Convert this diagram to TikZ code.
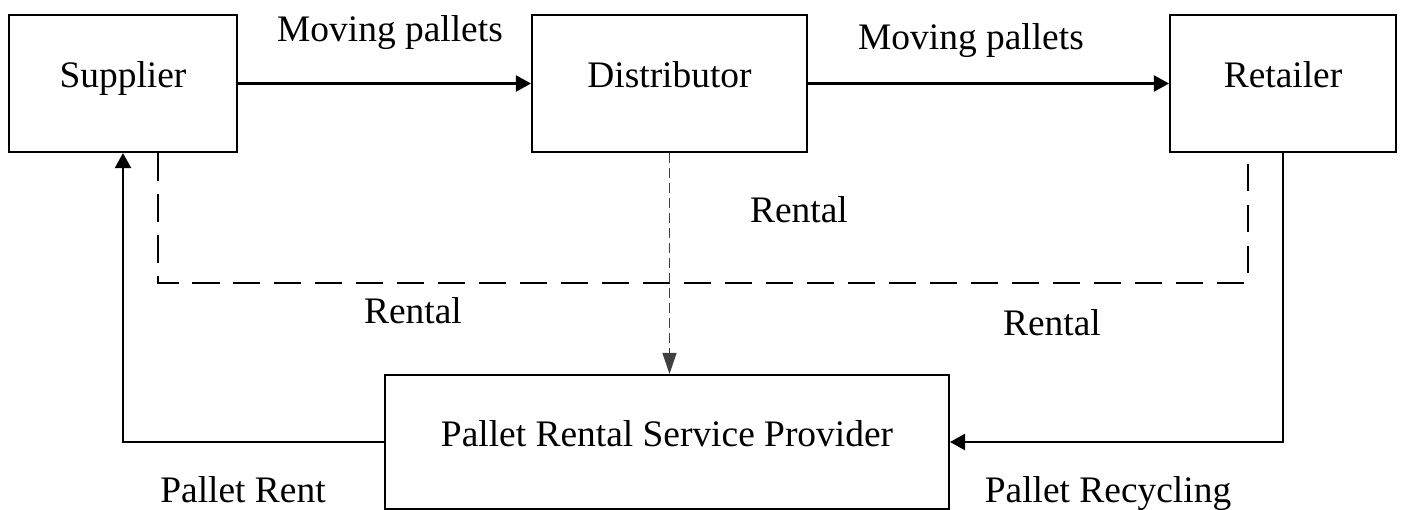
\documentclass[tikz,border=0pt]{standalone}
\usepackage{fontspec}
\setmainfont{Liberation Serif}
\usetikzlibrary{arrows.meta}
\tikzset{%
  myedge/.style={-{Triangle[length=0.3cm,width=0.32cm]}, line width=1.2pt},
  mydash/.style={dash pattern=on 0.55cm off 0.27cm, line width=1.4pt},
  mythin/.style={-{Triangle[length=0.42cm,width=0.28cm]}, dash pattern=on 0.2cm off 0.1cm, line width=0.6pt, black!75},
  mybox/.style={rectangle, draw=black, line width=1.2pt, inner sep=0pt, minimum height=2.74cm, text height=0.7em, text depth=0.22em},
  mylabel/.style={anchor=base, inner sep=0pt}
}

\begin{document}
\begin{tikzpicture}[x=0.02cm, y=-0.02cm, font=\fontsize{21.3}{25}\selectfont]
\useasboundingbox (0,0) rectangle (1403,510);

\node [mybox, minimum width=4.56cm] (S) at (123,83.5) {Supplier};
\node [mybox, minimum width=5.5cm] (D) at (669.5,83.5) {Distributor};
\node [mybox, minimum width=4.52cm] (R) at (1283,83.5) {Retailer};
\node [mybox, minimum width=11.28cm, minimum height=2.68cm] (P) at (667,442) {Pallet Rental Service Provider};

\draw [myedge] (S.east) -- (D.west);
\draw [myedge] (D.east) -- (R.west);

% rental loop
\coordinate (rentL) at (158,283);
\coordinate (rentR) at (1248,283);
\draw [mydash] (S.south -| rentL) -- (rentL) -- (rentR) -- (R.south -| rentR);
\draw [mythin] (D.south) -- (D.south |- P.north);

\draw [myedge] (P.west) -| (S.south);
\draw [myedge] (R.south) |- (P.east);

% labels
\foreach \name / \x / \y / \txt in {mvA/390/42/Moving pallets, mvB/971/50/Moving pallets,
    rentA/799/222/Rental, rentB/413/323/Rental, rentC/1052/335/Rental,
    prent/243/502/Pallet Rent, precy/1108/502/Pallet Recycling}{
  \node [mylabel] (\name) at (\x,\y) {\txt};
}

\end{tikzpicture}
\end{document}
